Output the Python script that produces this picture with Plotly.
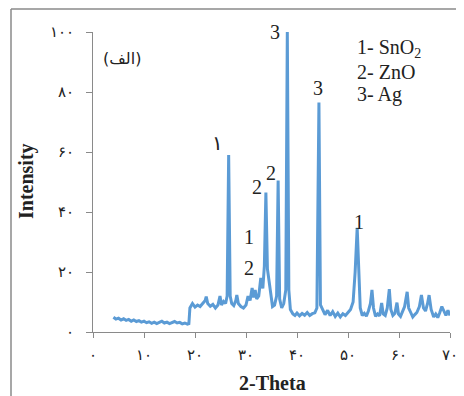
import plotly.graph_objects as go

# 2-Theta positions and intensities
theta = [4.0, 4.5, 5.0, 5.5, 6.0, 6.5, 7.0, 7.5, 8.0, 8.5, 9.0, 9.5, 10.0, 10.5, 11.0, 11.5,
         12.0, 12.5, 13.0, 13.5, 14.0, 14.5, 15.0, 15.5, 16.0, 16.5, 17.0, 17.5, 18.0, 18.5, 18.8,
         19.0, 19.5, 20.0, 20.5, 21.0, 21.5, 22.0, 22.2, 22.5, 23.0, 23.5, 24.0, 24.5, 24.9, 25.2,
         25.6, 26.0, 26.3, 26.6, 26.9, 27.2, 27.6, 28.0, 28.2, 28.5, 29.0, 29.5, 30.0, 30.4, 30.8,
         31.2, 31.5, 31.8, 32.1, 32.5, 32.9, 33.3, 33.6, 33.9, 34.2, 34.5, 34.8, 35.2, 35.6, 36.0,
         36.3, 36.6, 37.0, 37.4, 37.8, 38.1, 38.4, 38.7, 39.2, 39.6, 40.0, 40.5, 41.0, 41.5, 42.0,
         42.5, 43.0, 43.5, 43.9, 44.3, 44.6, 45.0, 45.5, 46.0, 46.5, 47.0, 47.5, 48.0, 48.5, 49.0,
         49.5, 50.0, 50.5, 51.0, 51.4, 51.8, 52.1, 52.4, 52.8, 53.2, 53.6, 54.0, 54.4, 54.7, 55.0,
         55.4, 55.8, 56.2, 56.6, 56.9, 57.3, 57.7, 58.1, 58.4, 58.8, 59.2, 59.6, 59.9, 60.3, 60.7,
         61.1, 61.6, 61.9, 62.3, 62.7, 63.1, 63.5, 64.0, 64.4, 64.8, 65.2, 65.6, 65.9, 66.3, 66.8,
         67.2, 67.6, 68.0, 68.4, 68.8, 69.2, 69.6, 70.0]
intensity = [4.9, 4.3, 4.6, 4.0, 4.4, 3.9, 4.2, 3.6, 4.0, 3.5, 3.8, 3.3, 3.6, 3.1, 3.4, 2.9,
             3.3, 2.8, 3.2, 3.6, 3.0, 3.3, 2.8, 3.2, 3.5, 3.0, 3.2, 2.7, 3.0, 2.6, 2.8,
             8.0, 9.5, 8.3, 9.0, 8.5, 9.6, 10.5, 11.8, 9.5, 8.6, 9.2, 8.0, 9.0, 12.0, 9.0,
             10.2, 9.5, 12.0, 59.0, 12.0, 9.5, 8.8, 10.5, 12.3, 9.5, 8.5, 8.0, 9.0, 12.0, 10.5,
             14.7, 11.5, 14.0, 11.0, 12.0, 18.0, 14.5, 22.0, 46.5, 21.0, 17.0, 12.0, 8.5, 9.0, 12.0,
             50.5, 11.0, 8.0, 9.5, 14.0, 100.0, 14.0, 7.5, 6.0, 5.5, 6.3, 5.4, 6.2, 5.6, 6.5,
             5.5, 6.1, 6.4, 8.0, 76.5, 9.0, 7.5, 5.8, 7.2, 5.5, 6.8, 5.2, 6.3, 5.0, 6.1,
             5.5, 6.5, 7.5, 10.0, 20.0, 34.7, 18.0, 8.0, 5.5, 6.2, 5.3, 7.0, 9.5, 14.0, 8.0,
             5.2, 6.0, 5.4, 9.7, 6.0, 5.5, 8.0, 14.3, 7.5, 5.5, 6.2, 9.8, 6.0, 5.2, 7.0,
             8.5, 13.4, 8.0, 6.5, 5.0, 5.8, 6.5, 8.5, 12.3, 8.0, 7.0, 9.5, 12.3, 7.5, 5.0,
             6.0, 4.8, 6.5, 8.5, 7.0, 5.5, 7.2, 5.5]

x_ticks = [0, 10, 20, 30, 40, 50, 60, 70]
x_tick_text = ["۰", "۱۰", "۲۰", "۳۰", "۴۰", "۵۰", "۶۰", "۷۰"]
y_ticks = [0, 20, 40, 60, 80, 100]
y_tick_text = ["۰", "۲۰", "۴۰", "۶۰", "۸۰", "۱۰۰"]

# peak labels: (x, y, text)
peak_x = [35.7, 44.1, 24.5, 32.2, 34.9, 30.6, 30.6, 52.2]
peak_y = [100.0, 81.3, 63.0, 48.3, 53.0, 31.7, 21.3, 36.7]
peak_text = ["3", "3", "١", "2", "2", "1", "2", "1"]

legend_lines = ["1- SnO<sub>2</sub>", "2- ZnO", "3- Ag"]

SERIF = "Liberation Serif, Times New Roman, DejaVu Serif"
GRAY = "#8a8a8a"

fig = go.Figure()
fig.add_trace(go.Scatter(x=theta, y=intensity, mode="lines",
                         line=dict(color="#5b9bd5", width=3), hoverinfo="skip"))

# the page body adds an 8px offset; screenshot coords = figure coords + 8
OFF = 8
W, H = 464 - OFF, 396 - OFF
L, T = 93 - OFF, 32 - OFF
pw, ph = 357, 300
R, B = W - L - pw, H - T - ph


def px(xs):
    return (xs - OFF - L) / pw


def py(ys):
    return (H - B - (ys - OFF)) / ph


fig.update_layout(
    width=W, height=H,
    margin=dict(l=L, r=R, t=T, b=B),
    paper_bgcolor="white", plot_bgcolor="white",
    showlegend=False,
    font=dict(family=SERIF, color="#222", size=13),
    xaxis=dict(range=[0, 70], tickvals=x_ticks, ticktext=x_tick_text, showgrid=False,
               zeroline=False, showline=True, linecolor=GRAY, linewidth=1, automargin=False,
               ticks="outside", ticklen=5, tickcolor=GRAY, ticklabelstandoff=4,
               tickfont=dict(family=SERIF, size=15, color="#222")),
    yaxis=dict(range=[0, 100], tickvals=y_ticks, ticktext=y_tick_text, showgrid=False,
               zeroline=False, showline=True, linecolor=GRAY, linewidth=1, automargin=False,
               ticks="outside", ticklen=6, tickcolor=GRAY, ticklabelstandoff=9,
               tickfont=dict(family=SERIF, size=15, color="#222")),
)

ann = []
for xv, yv, t in zip(peak_x, peak_y, peak_text):
    ann.append(dict(x=xv, y=yv, xref="x", yref="y", text=t, showarrow=False,
                    xanchor="center", yanchor="middle",
                    font=dict(family=SERIF, size=20, color="#222")))
for i, t in enumerate(legend_lines):
    ann.append(dict(x=px(355), y=py(49 + 23 * i), xref="paper", yref="paper", text=t,
                    showarrow=False, xanchor="left", yanchor="middle",
                    font=dict(family=SERIF, size=20, color="#222")))
ann.append(dict(x=px(122), y=py(58), xref="paper", yref="paper", text="(الف)",
                showarrow=False, xanchor="center", yanchor="middle",
                font=dict(family="DejaVu Sans", size=16, color="#222")))
ann.append(dict(x=px(272), y=py(383), xref="paper", yref="paper", text="<b>2-Theta</b>",
                showarrow=False, xanchor="center", yanchor="middle",
                font=dict(family=SERIF, size=20, color="#222")))
ann.append(dict(x=px(26), y=py(181), xref="paper", yref="paper", text="<b>Intensity</b>",
                showarrow=False, textangle=-90, xanchor="center", yanchor="middle",
                font=dict(family=SERIF, size=20, color="#222")))
fig.update_layout(annotations=ann)

fig.add_shape(type="line", xref="paper", yref="paper", x0=px(11), x1=px(470), y0=py(9), y1=py(9),
              line=dict(color=GRAY, width=1.5))
fig.add_shape(type="line", xref="paper", yref="paper", x0=px(11), x1=px(11), y0=py(9), y1=py(400),
              line=dict(color=GRAY, width=1.5))

fig.write_html("out.html")
